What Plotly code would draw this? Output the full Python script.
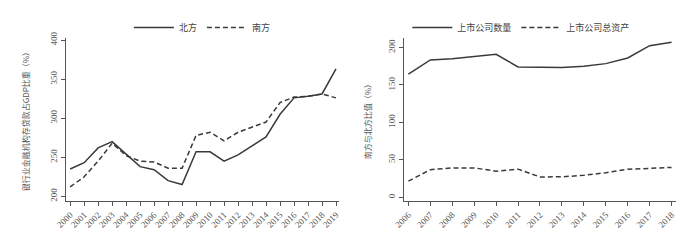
import plotly.graph_objects as go

years_l = list(range(2000, 2020))
north = [235, 243, 262, 270, 254, 238, 234, 220, 215, 257, 257, 245, 253, 264, 276, 305, 326, 328, 331, 363]
south = [212, 225, 245, 268, 252, 245, 244, 236, 236, 278, 282, 271, 282, 289, 295, 320, 327, 328, 331, 326]

years_r = list(range(2006, 2019))
count_ratio = [164.5, 183.5, 185, 188, 191, 174, 174, 173.5, 175, 178.5, 186, 202.5, 207]
asset_ratio = [21.7, 37, 39.4, 39.4, 35, 37.7, 27.3, 27.5, 29.5, 33, 37.5, 39, 40]

CJK = "Noto Sans CJK SC"
SER = "Liberation Serif"
LC = "#3a3a3a"
DASH = "5px,3px"

fig = go.Figure()
fig.add_trace(go.Scatter(x=years_l, y=north, mode="lines", name="北方",
                         line=dict(color=LC, width=1.5), xaxis="x", yaxis="y", legend="legend"))
fig.add_trace(go.Scatter(x=years_l, y=south, mode="lines", name="南方",
                         line=dict(color=LC, width=1.5, dash=DASH), xaxis="x", yaxis="y", legend="legend"))
fig.add_trace(go.Scatter(x=years_r, y=count_ratio, mode="lines", name="上市公司数量",
                         line=dict(color=LC, width=1.5), xaxis="x2", yaxis="y2", legend="legend2"))
fig.add_trace(go.Scatter(x=years_r, y=asset_ratio, mode="lines", name="上市公司总资产",
                         line=dict(color=LC, width=1.5, dash=DASH), xaxis="x2", yaxis="y2", legend="legend2"))

axis_common = dict(showline=True, linecolor="#555", linewidth=1, ticks="outside", ticklen=4,
                   tickcolor="#555", showgrid=False, zeroline=False,
                   tickfont=dict(family=SER, size=9, color="#555"))
ydom = [40/240, 208/240]
fig.update_layout(
    width=700, height=240, margin=dict(l=0, r=0, t=0, b=0),
    plot_bgcolor="white", paper_bgcolor="white",
    xaxis=dict(domain=[56/700, 334/700], range=[1999.7, 2019.2], tickvals=years_l,
               tickangle=-45, anchor="y", **axis_common),
    yaxis=dict(domain=ydom, range=[193.8, 402.5], tickvals=[200, 250, 300, 350, 400],
               tickangle=-90, anchor="x",
               title=dict(text="银行业金融机构存贷款占GDP比重（%）", font=dict(family=CJK, size=8, color="#555"), standoff=18),
               **axis_common),
    xaxis2=dict(domain=[400/700, 678/700], range=[2005.78, 2018.22], tickvals=years_r,
                tickangle=-45, anchor="y2", **axis_common),
    yaxis2=dict(domain=ydom, range=[-5, 212.6], tickvals=[0, 50, 100, 150, 200],
                tickangle=-90, anchor="x2",
                title=dict(text="南方与北方比值（%）", font=dict(family=CJK, size=8, color="#555"), standoff=14),
                **axis_common),
    legend=dict(orientation="h", x=195/700, y=1 - 21/240, xanchor="center", yanchor="middle",
                font=dict(family=CJK, size=9, color="#444"), bgcolor="rgba(0,0,0,0)", itemwidth=40),
    legend2=dict(orientation="h", x=520/700, y=1 - 21/240, xanchor="center", yanchor="middle",
                 font=dict(family=CJK, size=9, color="#444"), bgcolor="rgba(0,0,0,0)", itemwidth=40),
)
fig.write_html("out.html")
